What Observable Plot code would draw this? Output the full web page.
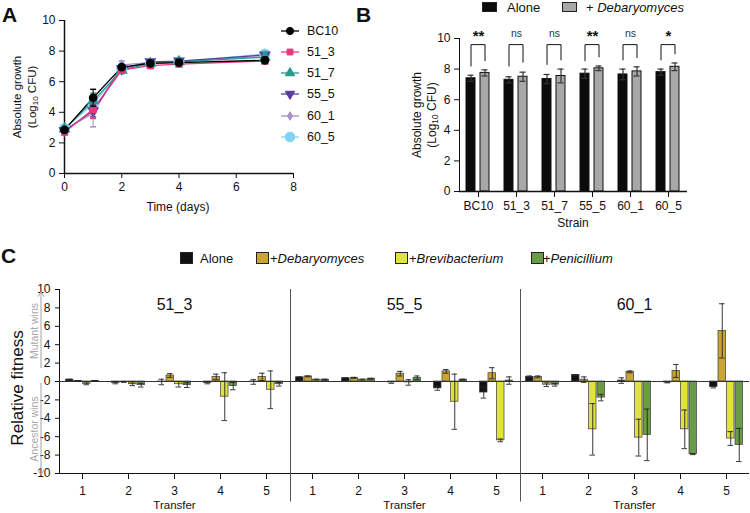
<!DOCTYPE html>
<html><head><meta charset="utf-8">
<script src="https://cdn.jsdelivr.net/npm/d3@7"></script>
<script src="https://cdn.jsdelivr.net/npm/@observablehq/plot@0.6"></script>
<style>
body{margin:0;background:#fff;font-family:"Liberation Sans",Arial,sans-serif;color:#111;}
#fig{position:relative;width:750px;height:513px;overflow:hidden;background:#fff;}
.abs{position:absolute;white-space:nowrap;line-height:1;}
.rot{transform:translate(-50%,-50%) rotate(-90deg);}
.ctr{transform:translate(-50%,-50%);}
.letter{font-weight:bold;font-size:21px;}
.sq{position:absolute;border:1px solid #222;box-sizing:border-box;}
sub{font-size:70%;vertical-align:-0.25em;line-height:0;}
</style></head><body><div id="fig"></div>
<script>
// ---------- Panel A data ----------
const timesA = [0, 1, 2, 3, 4, 7];
const strainsA = ["BC10", "51_3", "51_7", "55_5", "60_1", "60_5"];
const growth_BC10 = [2.85, 4.95, 6.95, 7.2, 7.25, 7.4];
const err_BC10    = [0.1, 0.55, 0.15, 0.12, 0.1, 0.2];
const growth_51_3 = [2.7, 4.2, 6.75, 7.05, 7.15, 7.35];
const err_51_3    = [0.1, 0.6, 0.1, 0.1, 0.1, 0.15];
const growth_51_7 = [2.9, 4.75, 6.75, 7.2, 7.3, 7.6];
const err_51_7    = [0.1, 0.5, 0.1, 0.1, 0.1, 0.3];
const growth_55_5 = [2.8, 4.1, 6.85, 7.3, 7.35, 7.75];
const err_55_5    = [0.1, 0.4, 0.1, 0.1, 0.1, 0.15];
const growth_60_1 = [2.85, 3.95, 7.1, 7.25, 7.35, 7.65];
const err_60_1    = [0.1, 0.9, 0.25, 0.1, 0.1, 0.15];
const growth_60_5 = [2.95, 4.55, 6.8, 7.15, 7.3, 7.8];
const err_60_5    = [0.1, 0.4, 0.1, 0.1, 0.1, 0.15];

// ---------- Panel B data ----------
const strainsB = ["BC10", "51_3", "51_7", "55_5", "60_1", "60_5"];
const groupsB = ["Alone", "+ Debaryomyces"];
const aloneB    = [7.4, 7.3, 7.35, 7.7, 7.65, 7.8];
const aloneErrB = [0.2, 0.2, 0.3, 0.3, 0.35, 0.2];
const debB      = [7.75, 7.5, 7.55, 8.05, 7.85, 8.15];
const debErrB   = [0.2, 0.3, 0.45, 0.15, 0.3, 0.25];
const sigB      = ["**", "ns", "ns", "**", "ns", "*"];
const bracketTopB   = [9.6, 9.6, 9.6, 9.6, 9.6, 9.6];
const bracketLeftB  = [8.2, 8.2, 8.3, 8.55, 8.6, 8.6];
const bracketRightB = [8.55, 8.45, 8.6, 8.8, 8.75, 9.0];

// ---------- Panel C data ----------
const strainsC = ["51_3", "55_5", "60_1"];
const transfersC = ["1", "2", "3", "4", "5"];
const conditionsC = ["Alone", "+Debaryomyces", "+Brevibacterium", "+Penicillium"];
const fit_51_3_alone = [0.2, -0.15, -0.05, -0.15, -0.05];
const err_51_3_alone = [0.05, 0.1, 0.3, 0.1, 0.25];
const fit_51_3_deb   = [0.05, -0.05, 0.65, 0.5, 0.5];
const err_51_3_deb   = [0.05, 0.05, 0.2, 0.3, 0.4];
const fit_51_3_brev  = [-0.25, -0.3, -0.3, -1.65, -0.9];
const err_51_3_brev  = [0.1, 0.15, 0.3, 2.6, 2.05];
const fit_51_3_pen   = [0.05, -0.4, -0.4, -0.5, -0.3];
const err_51_3_pen   = [0.05, 0.2, 0.25, 0.4, 0.2];
const fit_55_5_alone = [0.45, 0.35, -0.1, -0.75, -1.2];
const err_55_5_alone = [0.05, 0.05, 0.1, 0.2, 0.6];
const fit_55_5_deb   = [0.55, 0.4, 0.85, 1.1, 0.9];
const err_55_5_deb   = [0.05, 0.05, 0.25, 0.2, 0.6];
const fit_55_5_brev  = [0.2, 0.2, -0.1, -2.2, -6.4];
const err_55_5_brev  = [0.05, 0.05, 0.3, 3.0, 0.15];
const fit_55_5_pen   = [0.2, 0.3, 0.4, 0.2, 0.1];
const err_55_5_pen   = [0.05, 0.05, 0.2, 0.05, 0.4];
const fit_60_1_alone = [0.5, 0.7, 0.1, -0.1, -0.6];
const err_60_1_alone = [0.1, 0.05, 0.3, 0.05, 0.1];
const fit_60_1_deb   = [0.5, 0.2, 1.05, 1.15, 5.5];
const err_60_1_deb   = [0.1, 0.3, 0.1, 0.7, 2.95];
const fit_60_1_brev  = [-0.35, -5.2, -6.1, -5.2, -6.2];
const err_60_1_brev  = [0.2, 2.8, 2.0, 2.1, 0.75];
const fit_60_1_pen   = [-0.35, -1.75, -5.8, -7.9, -6.9];
const err_60_1_pen   = [0.15, 0.35, 2.8, 0.05, 1.8];

// ---------- styling ----------
const FONT = '"Liberation Sans", Arial, sans-serif';
const colorsA = ["#000000", "#e8397d", "#27998f", "#5b3c9e", "#a78fcc", "#7fd4f3"];
const symbolsA = ["circle", "square", "triangle", "triangle", "diamond", "circle"];
const rotateA = [0, 0, 0, 180, 0, 0];
const sizesA = [3.6, 3.3, 3.5, 3.5, 2.6, 4.8];
const colorsB = ["#0b0b0b", "#a8a8a8"];
const colorsC = ["#111111", "#c8a535", "#e0e33a", "#6a9c48"];
const capSymbol = {draw(ctx, size) { const w = Math.sqrt(size / Math.PI); ctx.moveTo(-w, 0); ctx.lineTo(w, 0); }};

const fig = document.getElementById("fig");
function place(el, left, top) { el.style.position = "absolute"; el.style.left = left + "px"; el.style.top = top + "px"; fig.appendChild(el); return el; }
function label(html, x, y, cls, style) { const d = document.createElement("div"); d.className = "abs " + (cls || ""); d.innerHTML = html; d.style.left = x + "px"; d.style.top = y + "px"; if (style) Object.assign(d.style, style); fig.appendChild(d); return d; }

// ---------- Panel A ----------
const seriesA = [growth_BC10, growth_51_3, growth_51_7, growth_55_5, growth_60_1, growth_60_5];
const errA = [err_BC10, err_51_3, err_51_7, err_55_5, err_60_1, err_60_5];
const rowsA = strainsA.flatMap((s, i) => timesA.map((t, j) => ({strain: s, t, v: seriesA[i][j], e: errA[i][j]})));
const marksA = [Plot.ruleY([0], {strokeWidth: 1.5}), Plot.ruleX([0], {strokeWidth: 1.5})];
const orderA = [5, 4, 3, 2, 1, 0];
for (const i of orderA) {
  const rows = rowsA.filter(d => d.strain === strainsA[i]);
  marksA.push(Plot.line(rows, {x: "t", y: "v", stroke: colorsA[i], strokeWidth: 1.3}));
}
for (const i of orderA) {
  const rows = rowsA.filter(d => d.strain === strainsA[i]);
  marksA.push(Plot.ruleX(rows, {x: "t", y1: d => d.v - d.e, y2: d => d.v + d.e, stroke: colorsA[i], strokeWidth: 1}));
  marksA.push(Plot.dot(rows, {x: "t", y: d => d.v + d.e, symbol: capSymbol, r: 3, stroke: colorsA[i], fill: "none"}));
  marksA.push(Plot.dot(rows, {x: "t", y: d => d.v - d.e, symbol: capSymbol, r: 3, stroke: colorsA[i], fill: "none"}));
  marksA.push(Plot.dot(rows, {x: "t", y: "v", symbol: symbolsA[i], r: sizesA[i], fill: colorsA[i], stroke: colorsA[i], rotate: rotateA[i]}));
}
const plotA = Plot.plot({
  width: 300, height: 220, marginLeft: 64, marginRight: 7, marginTop: 20, marginBottom: 47,
  style: {fontFamily: FONT, fontSize: "12px", color: "#111", background: "transparent", overflow: "visible"},
  x: {domain: [0, 8], ticks: [0, 2, 4, 6, 8], tickSize: 5, label: null},
  y: {domain: [0, 10], ticks: [0, 2, 4, 6, 8, 10], tickSize: 5, label: null},
  marks: marksA
});
place(plotA, 0, 0);
label("A", 2, 4, "letter");
label("Absolute growth", 18, 97, "rot", {fontSize: "11.5px"});
label("(Log<sub>10</sub> CFU)", 33, 97, "rot", {fontSize: "11.5px"});
label("Time (days)", 178, 207, "ctr", {fontSize: "12px"});
// legend A
const legA = [31, 52, 73, 94, 116, 137];
strainsA.forEach((s, i) => {
  const sv = d3.create("svg").attr("width", 24).attr("height", 14);
  sv.append("line").attr("x1", 0).attr("x2", 18).attr("y1", 7).attr("y2", 7).attr("stroke", colorsA[i]).attr("stroke-width", 1.3);
  const sym = {circle: d3.symbolCircle, square: d3.symbolSquare, triangle: d3.symbolTriangle, diamond: d3.symbolDiamond}[symbolsA[i]];
  sv.append("path").attr("d", d3.symbol(sym, sizesA[i] * sizesA[i] * Math.PI)()).attr("transform", `translate(9,7) rotate(${rotateA[i]})`).attr("fill", colorsA[i]).attr("stroke", colorsA[i]);
  place(sv.node(), 281, legA[i] - 7);
  label(s, 307, legA[i], "", {fontSize: "12.5px", transform: "translateY(-50%)"});
});

// ---------- Panel B ----------
const rowsB = strainsB.flatMap((s, i) => [
  {strain: s, group: groupsB[0], v: aloneB[i], e: aloneErrB[i]},
  {strain: s, group: groupsB[1], v: debB[i], e: debErrB[i]}
]);
const bracketRowsB = strainsB.flatMap((s, i) => [
  {strain: s, group: groupsB[0], v: bracketLeftB[i]},
  {strain: s, group: groupsB[0], v: bracketTopB[i]},
  {strain: s, group: groupsB[1], v: bracketTopB[i]},
  {strain: s, group: groupsB[1], v: bracketRightB[i]}
]);
const sigRowsB = strainsB.map((s, i) => ({strain: s, sig: sigB[i]}));
const plotB = Plot.plot({
  width: 320, height: 225, marginLeft: 78, marginRight: 12, marginTop: 38, marginBottom: 34,
  style: {fontFamily: FONT, fontSize: "12px", color: "#111", background: "transparent", overflow: "visible"},
  fx: {domain: strainsB, padding: 0, axis: "bottom", tickSize: 6, tickPadding: 4, label: null},
  x: {domain: groupsB, paddingInner: 0.333, paddingOuter: 0.443, axis: null},
  y: {domain: [0, 10], ticks: [0, 2, 4, 6, 8, 10], tickSize: 5, label: null, line: true},
  color: {domain: groupsB, range: colorsB},
  marks: [
    Plot.barY(rowsB, {fx: "strain", x: "group", y: "v", fill: "group", stroke: "#111", strokeWidth: 1}),
    Plot.ruleX(rowsB, {fx: "strain", x: "group", y1: d => d.v - d.e, y2: d => d.v + d.e, stroke: "#333", strokeWidth: 1.2}),
    Plot.tickY(rowsB, {fx: "strain", x: "group", y: d => d.v + d.e, insetLeft: 1.5, insetRight: 1.5, stroke: "#333", strokeWidth: 1.2}),
    Plot.tickY(rowsB, {fx: "strain", x: "group", y: d => d.v - d.e, insetLeft: 1.5, insetRight: 1.5, stroke: "#333", strokeWidth: 1.2}),
    Plot.line(bracketRowsB, {fx: "strain", x: "group", y: "v", z: "strain", stroke: "#111", strokeWidth: 1}),
    Plot.text(sigRowsB.filter(d => d.sig !== "ns"), {fx: "strain", y: () => 10.15, text: "sig", fontSize: 15, fontWeight: "bold"}),
    Plot.text(sigRowsB.filter(d => d.sig === "ns"), {fx: "strain", y: () => 10.35, text: "sig", fontSize: 10.5, fill: "#333"}),
    Plot.ruleY([0], {strokeWidth: 1.5})
  ]
});
place(plotB, 380, 0);
label("B", 356, 4, "letter");
label("Absolute growth", 417, 115, "rot", {fontSize: "12px"});
label("(Log<sub>10</sub> CFU)", 432, 115, "rot", {fontSize: "12px"});
label("Strain", 573, 223, "ctr", {fontSize: "12px"});
{ const s = document.createElement("div"); s.className = "sq"; Object.assign(s.style, {left: "482px", top: "2px", width: "15px", height: "10px", background: colorsB[0]}); fig.appendChild(s); }
label("Alone", 507, 7, "", {fontSize: "13px", transform: "translateY(-50%)"});
{ const s = document.createElement("div"); s.className = "sq"; Object.assign(s.style, {left: "562px", top: "2px", width: "15px", height: "10px", background: colorsB[1]}); fig.appendChild(s); }
label("+ <i>Debaryomyces</i>", 586, 7, "", {fontSize: "13px", transform: "translateY(-50%)"});

// ---------- Panel C ----------
const fitC = {
  "51_3": [fit_51_3_alone, fit_51_3_deb, fit_51_3_brev, fit_51_3_pen],
  "55_5": [fit_55_5_alone, fit_55_5_deb, fit_55_5_brev, fit_55_5_pen],
  "60_1": [fit_60_1_alone, fit_60_1_deb, fit_60_1_brev, fit_60_1_pen]
};
const errC = {
  "51_3": [err_51_3_alone, err_51_3_deb, err_51_3_brev, err_51_3_pen],
  "55_5": [err_55_5_alone, err_55_5_deb, err_55_5_brev, err_55_5_pen],
  "60_1": [err_60_1_alone, err_60_1_deb, err_60_1_brev, err_60_1_pen]
};
const rowsC = strainsC.flatMap(s => conditionsC.flatMap((c, k) => transfersC.map((t, j) => ({strain: s, cond: c, k, transfer: t, v: fitC[s][k][j], e: errC[s][k][j]}))));
// bar geometry within each 46px transfer band
const insL = [6.5, 15, 23.5, 32], insR = [32, 23.5, 15, 6.5];
const offC = [-12.75, -4.25, 4.25, 12.75];
const marksC = [];
conditionsC.forEach((c, k) => {
  const rows = rowsC.filter(d => d.k === k);
  marksC.push(Plot.barY(rows, {fx: "strain", x: "transfer", y: "v", fill: colorsC[k], stroke: "#3a3a3a", strokeWidth: 0.7, insetLeft: insL[k], insetRight: insR[k]}));
});
marksC.push(Plot.ruleY([0], {stroke: "#333", strokeWidth: 1}));
conditionsC.forEach((c, k) => {
  const rows = rowsC.filter(d => d.k === k);
  marksC.push(Plot.ruleX(rows, {fx: "strain", x: "transfer", y1: d => d.v - d.e, y2: d => d.v + d.e, dx: offC[k], stroke: "#222", strokeWidth: 0.9}));
  marksC.push(Plot.tickY(rows, {fx: "strain", x: "transfer", y: d => d.v + d.e, insetLeft: insL[k] + 1, insetRight: insR[k] + 1, stroke: "#222", strokeWidth: 0.9}));
  marksC.push(Plot.tickY(rows, {fx: "strain", x: "transfer", y: d => d.v - d.e, insetLeft: insL[k] + 1, insetRight: insR[k] + 1, stroke: "#222", strokeWidth: 0.9}));
});
marksC.push(Plot.ruleY([-10], {stroke: "#111", strokeWidth: 1}));
marksC.push(Plot.ruleX(strainsC.slice(1), {fx: d => d, x: () => transfersC[0], y1: () => 10, y2: () => -13.1, dx: -22, stroke: "#555", strokeWidth: 1}));
marksC.push(Plot.text(strainsC, {fx: d => d, y: () => 8.3, text: d => d, fontSize: 16}));
marksC.push(Plot.text(strainsC, {fx: d => d, text: () => "Transfer", frameAnchor: "bottom", dy: 35, fontSize: 11.5}));
const plotC = Plot.plot({
  width: 750, height: 243, marginLeft: 59, marginRight: 1, marginTop: 19, marginBottom: 40,
  style: {fontFamily: FONT, fontSize: "12px", color: "#111", background: "transparent", overflow: "visible"},
  fx: {domain: strainsC, padding: 0, axis: null},
  x: {domain: transfersC, padding: 0, tickSize: 6, tickPadding: 7, label: null},
  y: {domain: [-10, 10], ticks: d3.range(-10, 11, 2), tickSize: 4, tickFormat: d => String(d), label: null, line: true},
  marks: marksC
});
place(plotC, 0, 270);
label("C", 1, 245, "letter");
label("Relative fitness", 17, 388, "rot", {fontSize: "17px"});
// annotation arrows using the C y scale
const yC = plotC.scale("y");
const yPix = v => 270 + yC.apply(v);
const ann = d3.create("svg").attr("width", 60).attr("height", 513).style("position", "absolute").style("left", "0px").style("top", "0px");
const gray = "#a3a3a3";
ann.append("line").attr("x1", 41).attr("x2", 41).attr("y1", yPix(1.4)).attr("y2", yPix(9.7)).attr("stroke", gray);
ann.append("path").attr("d", `M38,${yPix(9.7) + 5}L41,${yPix(9.7)}L44,${yPix(9.7) + 5}`).attr("fill", "none").attr("stroke", gray);
ann.append("line").attr("x1", 41).attr("x2", 41).attr("y1", yPix(-0.2)).attr("y2", yPix(-10.2)).attr("stroke", gray);
ann.append("path").attr("d", `M38,${yPix(-10.2) - 5}L41,${yPix(-10.2)}L44,${yPix(-10.2) - 5}`).attr("fill", "none").attr("stroke", gray);
fig.appendChild(ann.node());
label("Mutant wins", 34, yPix(5.4), "rot", {fontSize: "10.5px", color: "#a8a8a8"});
label("Ancestor wins", 34, yPix(-5.2), "rot", {fontSize: "10.5px", color: "#a8a8a8"});
// legend C
const legCsq = [180, 256, 395, 531];
const legCtx = [200, 270, 409, 543];
const legCnames = ["Alone", "+<i>Debaryomyces</i>", "+<i>Brevibacterium</i>", "+<i>Penicillium</i>"];
conditionsC.forEach((c, k) => {
  const s = document.createElement("div"); s.className = "sq";
  Object.assign(s.style, {left: legCsq[k] + "px", top: "252px", width: "13px", height: "12px", background: colorsC[k]});
  fig.appendChild(s);
  label(legCnames[k], legCtx[k], 258, "", {fontSize: "13px", transform: "translateY(-50%)"});
});
</script></body></html>
